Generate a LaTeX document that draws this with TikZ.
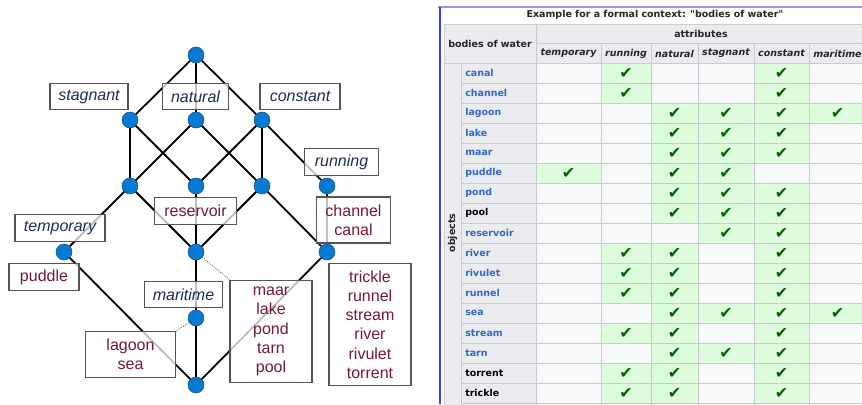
\documentclass[tikz,border=0pt]{standalone}
\usepackage{fontspec}
\usepackage{xcolor}
\usepackage{tikz}
\setmainfont{Liberation Sans}
\newfontfamily\tabfont{DejaVu Sans}
\definecolor{conceptblue}{RGB}{5,122,210}
\definecolor{conceptedge}{RGB}{20,80,140}
\definecolor{boxgray}{RGB}{85,85,85}
\definecolor{attrnavy}{RGB}{30,45,85}
\definecolor{objred}{RGB}{120,25,48}
\definecolor{hdrgray}{RGB}{234,236,240}
\definecolor{cellgray}{RGB}{248,249,250}
\definecolor{cellgreen}{RGB}{221,253,221}
\definecolor{gridgray}{RGB}{200,204,209}
\definecolor{lnk}{RGB}{51,102,204}
\definecolor{tickgreen}{RGB}{0,100,0}
\definecolor{framebl}{RGB}{60,60,245}
\definecolor{framelav}{RGB}{150,150,235}

\begin{document}
\begin{tikzpicture}[x=0.75pt,y=0.75pt,yscale=-1,xscale=1,
  concept/.style={circle, fill=conceptblue, draw=conceptedge, line width=0.4pt, inner sep=0pt, minimum size=12pt},
  edge/.style={line width=1.35pt},
  lbox/.style={draw=boxgray, line width=0.8pt, fill=white, fill opacity=0.75, text opacity=1, inner sep=0pt, minimum height=20pt, align=center, text=objred, font=\fontsize{12}{14.4}\selectfont},
  attr/.style={lbox, text=attrnavy, font=\fontsize{12}{14.4}\selectfont\itshape},
  obj/.style={lbox},
  link/.style={densely dotted, line width=0.6pt, draw=boxgray},
  grid/.style={draw=gridgray, line width=0.75pt},
  thead/.style={font=\tabfont\bfseries\fontsize{7.1}{8.5}\selectfont, text=black!85, inner sep=0pt},
  colhead/.style={font=\tabfont\bfseries\itshape\fontsize{7.1}{8.5}\selectfont, text=black!85, inner sep=0pt},
  rowname/.style={font=\tabfont\bfseries\fontsize{7.1}{8.5}\selectfont, anchor=west, inner sep=0pt},
  tick/.style={font=\tabfont\fontsize{12}{13}\selectfont, text=tickgreen, inner sep=0pt}]
  \clip (0,0) rectangle (862,404);

  %Concepts
  \node[concept] (vtop) at (196,55) {};
  \node[concept] (vstag) at (130,120) {};
  \node[concept] (vnat) at (196,120) {};
  \node[concept] (vcon) at (262,120) {};
  \node[concept] (vsn) at (130,186) {};
  \node[concept] (vsc) at (196,186) {};
  \node[concept] (vnc) at (262,186) {};
  \node[concept] (vrun) at (327,186) {};
  \node[concept] (vtemp) at (64,252) {};
  \node[concept] (vnsc) at (196,252) {};
  \node[concept] (vrnc) at (327,252) {};
  \node[concept] (vmar) at (196,318) {};
  \node[concept] (vbot) at (196,385) {};

  %Edges
  \draw[edge] (vtop) -- (vstag);
  \draw[edge] (vtop) -- (vnat);
  \draw[edge] (vtop) -- (vcon);
  \draw[edge] (vstag) -- (vsn);
  \draw[edge] (vstag) -- (vsc);
  \draw[edge] (vnat) -- (vsn);
  \draw[edge] (vnat) -- (vnc);
  \draw[edge] (vcon) -- (vsc);
  \draw[edge] (vcon) -- (vnc);
  \draw[edge] (vcon) -- (vrun);
  \draw[edge] (vsn) -- (vtemp);
  \draw[edge] (vsn) -- (vnsc);
  \draw[edge] (vsc) -- (vnsc);
  \draw[edge] (vnc) -- (vnsc);
  \draw[edge] (vnc) -- (vrnc);
  \draw[edge] (vrun) -- (vrnc);
  \draw[edge] (vtemp) -- (vbot);
  \draw[edge] (vnsc) -- (vmar);
  \draw[edge] (vmar) -- (vbot);
  \draw[edge] (vrnc) -- (vbot);

  % Attribute labels
  \node[attr, minimum width=58.5pt] (lstag) at (89,96.5) {stagnant};
  \node[attr, minimum width=50pt] (lnat) at (195.5,96.5) {natural};
  \node[attr, minimum width=60pt] (lcon) at (300,96.5) {constant};
  \node[attr, minimum width=55pt] (lrun) at (341.5,162) {running};
  \node[attr, minimum width=67.5pt] (ltemp) at (60,228) {temporary};
  \node[attr, minimum width=58pt] (lmar) at (183.5,294.5) {maritime};

  % Object labels
  \node[obj, minimum width=62pt] (lres) at (195.5,211) {reservoir};
  \node[obj, minimum width=56pt, minimum height=34.5pt] (lchan) at (353.5,220) {channel\\canal};
  \node[obj, minimum width=52.5pt] (lpud) at (44,277) {puddle};
  \node[obj, minimum width=67.5pt, minimum height=34pt] (llag) at (130.5,354.5) {lagoon\\sea};
  \node[obj, minimum width=61.5pt, minimum height=77pt] (llake) at (271,331.5) {maar\\lake\\pond\\tarn\\pool};
  \node[obj, minimum width=61.5pt, minimum height=91pt] (lflow) at (370,324.5) {trickle\\runnel\\stream\\river\\rivulet\\torrent};

  \draw[link] (vnsc) -- (llake.north west);
  \draw[link] (vmar) -- (llag.north east);

  %Table frame
  \draw[framelav, line width=0.8pt] (438,7) -- (866,7);
  \draw[framebl, line width=1.5pt] (439.5,7) -- (439.5,404);
  \node[thead] (ttitle) at (655,15) {Example for a formal context: "bodies of water"};

  %Table backgrounds
  \fill[hdrgray] (444,24) rectangle (866,63);
  \fill[hdrgray] (444,63) rectangle (536,410);
  \fill[cellgray] (536,63) rectangle (866,410);

  % Rows
  \foreach \obj/\clr/\cols [count=\r from 0] in {canal/lnk/{2,5}, channel/lnk/{2,5}, lagoon/lnk/{3,4,5,6}, lake/lnk/{3,4,5}, maar/lnk/{3,4,5}, puddle/lnk/{1,3,4}, pond/lnk/{3,4,5}, pool/black/{3,4,5}, reservoir/lnk/{4,5}, river/lnk/{2,3,5}, rivulet/lnk/{2,3,5}, runnel/lnk/{2,3,5}, sea/lnk/{3,4,5,6}, stream/lnk/{2,3,5}, tarn/lnk/{3,4,5}, torrent/black/{2,3,5}, trickle/black/{2,3,5}} {
    \pgfmathsetmacro{\ytop}{63+20*\r}
    \node[rowname, text=\clr] (row\r) at (465,\ytop+10) {\obj};
    \foreach \c in \cols {
      \pgfmathsetmacro{\xa}{{536,601,651,698,754,809}[\c-1]}
      \pgfmathsetmacro{\xb}{{601,651,698,754,809,866}[\c-1]}
      \fill[cellgreen] (\xa,\ytop) rectangle (\xb,\ytop+20);
      \node[tick] at ({(\xa+\xb)/2},\ytop+10.5) {✔};
    }
  }

  %Grid
  \draw[grid] (444,24) -- (866,24);
  \draw[grid] (536,43) -- (866,43);
  \draw[grid] (444,63) -- (866,63);
  \foreach \y in {83,103,...,403} \draw[grid] (461,\y) -- (866,\y);
  \draw[grid] (444,24) -- (444,410);
  \draw[grid] (461,63) -- (461,410);
  \draw[grid] (536,24) -- (536,410);
  \foreach \x in {601,651,698,754,809} \draw[grid] (\x,43) -- (\x,410);

  % Header texts
  \node[thead] (hbody) at (490,43.5) {bodies of water};
  \node[thead] (hattr) at (701,34) {attributes};
  \foreach \h/\xc in {temporary/568.5, running/626, natural/674.5, stagnant/726, constant/781.5, maritime/837.5}
    \node[colhead] (h\h) at (\xc,53.5) {\h};
  \node[thead, rotate=90] (hobj) at (452.5,233) {objects};
\end{tikzpicture}
\end{document}
